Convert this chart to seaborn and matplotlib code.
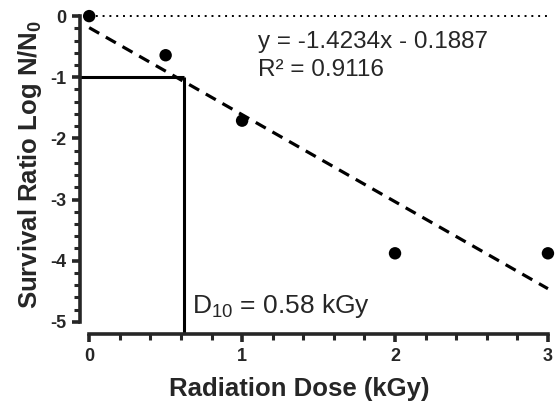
"""
Survival curve after irradiation: log reduction vs dose, with linear fit and D10.
"""
import matplotlib
matplotlib.use("Agg")
import matplotlib.pyplot as plt
from matplotlib.ticker import FixedLocator
import seaborn as sns
import pandas as pd

# --- Data ---
DOSE = [0.0, 0.5, 1.0, 2.0, 3.0]
LOG_SURVIVAL = [0.0, -0.64, -1.71, -3.88, -3.88]
SLOPE = -1.4234
INTERCEPT = -0.1887
R_SQUARED = 0.9116
FIT_X = [0.0, 3.0]
D10_X = 0.62
D10_LABEL = "0.58"
X_TICKS = [0, 1, 2, 3]
Y_TICKS = [0, -1, -2, -3, -4, -5]
X_MINOR = [i / 5 for i in range(1, 15) if i % 5]
Y_MINOR = [-i / 5 for i in range(1, 25) if i % 5]

sns.set_theme(style="ticks")
plt.rcParams['font.family'] = ['Liberation Sans', 'DejaVu Sans']
plt.rcParams['mathtext.default'] = 'regular'
plt.rcParams['axes.unicode_minus'] = False

fig = plt.figure(figsize=(5.57, 4.08), dpi=100)
ax = fig.add_axes([80 / 557, (408 - 334) / 408, (551 - 80) / 557, (334 - 10) / 408])

points = pd.DataFrame({'Dose': DOSE, 'Log': LOG_SURVIVAL})
fit = pd.DataFrame({'Dose': FIT_X, 'Log': [SLOPE * x + INTERCEPT for x in FIT_X]})

# zero reference line
ax.plot([0, 3], [0, 0], color='black', linestyle=(0, (1, 2.5)), linewidth=1.4)

# linear fit
sns.lineplot(data=fit, x='Dose', y='Log', ax=ax, color='black',
             linestyle=(0, (3.6, 2.4)), linewidth=2.3)

# D10 guides
ax.plot([-0.06, D10_X], [-1, -1], color='black', linewidth=2.2, solid_capstyle='butt')
ax.plot([D10_X, D10_X], [-1, -5.2], color='black', linewidth=2.2, solid_capstyle='butt')

sns.scatterplot(data=points, x='Dose', y='Log', ax=ax, color='black', s=80,
                edgecolor='none', zorder=5, clip_on=False)

ax.text(1.107, -0.526, f"y = {SLOPE}x - {abs(INTERCEPT)}", fontsize=17.5, va='baseline')
ax.text(1.107, -0.987, f"R² = {R_SQUARED}", fontsize=17.5, va='baseline')
ax.text(0.67, -4.85, "D$_{10}$ = " + D10_LABEL + " kGy", fontsize=19, va='baseline')

ax.set_xlim(-0.06, 3.02)
ax.set_ylim(-5.2, 0.1)
ax.set_xticks(X_TICKS)
ax.set_yticks(Y_TICKS)
ax.xaxis.set_minor_locator(FixedLocator(X_MINOR))
ax.yaxis.set_minor_locator(FixedLocator(Y_MINOR))
ax.spines['left'].set_bounds(-5, 0)
ax.spines['bottom'].set_bounds(0, 3)
for side in ['top', 'right']:
    ax.spines[side].set_visible(False)
for side in ['left', 'bottom']:
    ax.spines[side].set_linewidth(2.6)
ax.tick_params(which='major', length=6, width=2.6, labelsize=13, pad=4)
ax.tick_params(which='minor', length=4, width=2.2)
for lab in ax.get_xticklabels() + ax.get_yticklabels():
    lab.set_fontweight('bold')

ax.set_xlabel("Radiation Dose (kGy)", fontsize=18.5, fontweight='bold')
ax.set_ylabel("Survival Ratio Log N/N$_0$", fontsize=18.5, fontweight='bold')
ax.xaxis.set_label_coords((299 - 80) / 471, -(377 - 334) / 324)
ax.xaxis.label.set_verticalalignment('top')
ax.yaxis.set_label_coords((30 - 80) / 471, (334 - 164) / 324)
ax.yaxis.label.set_verticalalignment('center')

fig.savefig("out.png", dpi=100)
